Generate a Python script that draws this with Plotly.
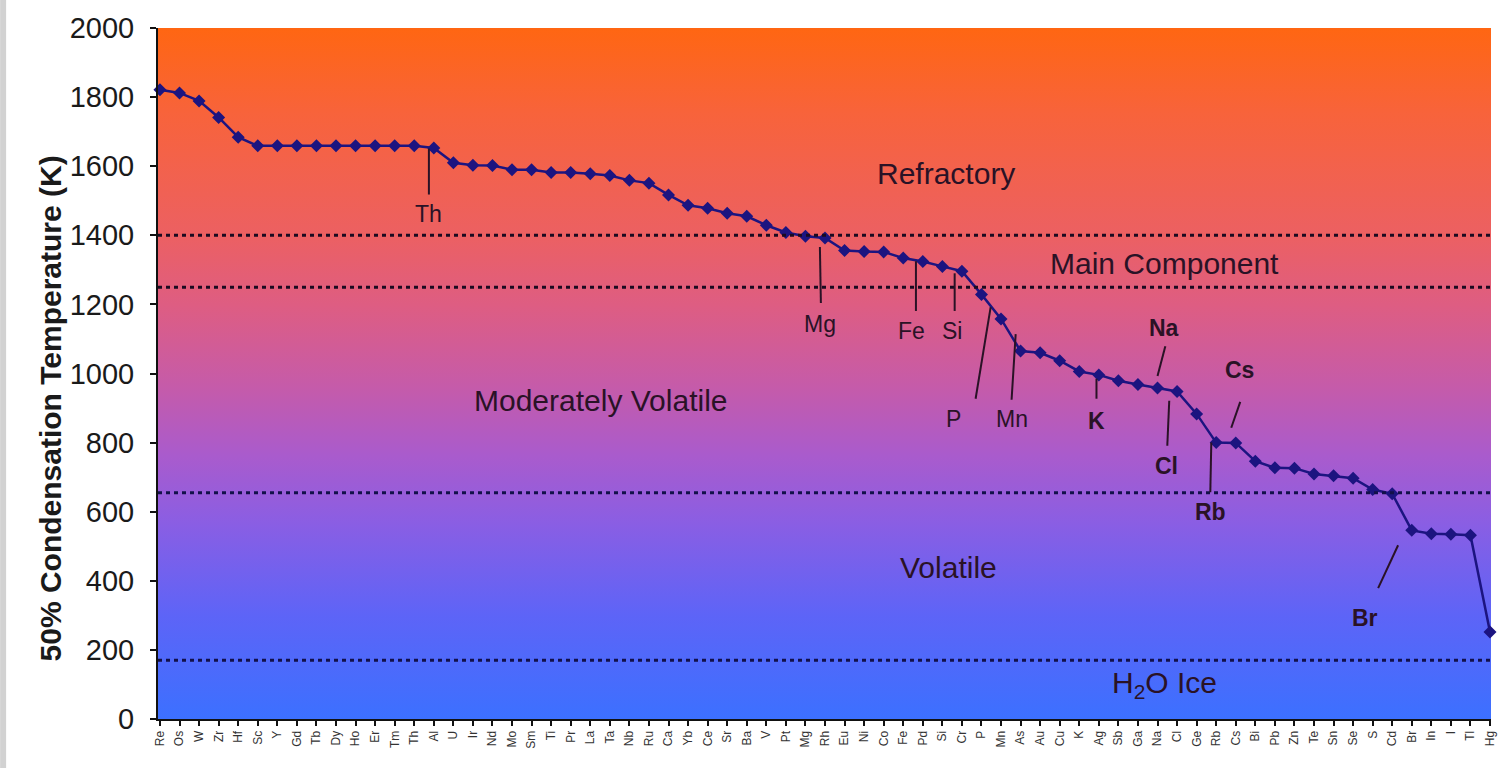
import base64
import plotly.graph_objects as go

# 50% condensation temperatures (K), ordered from most refractory to most volatile
elements = [
    "Re", "Os", "W", "Zr", "Hf", "Sc", "Y", "Gd", "Tb", "Dy", "Ho", "Er", "Tm", "Th",
    "Al", "U", "Ir", "Nd", "Mo", "Sm", "Ti", "Pr", "La", "Ta", "Nb", "Ru", "Ca", "Yb",
    "Ce", "Sr", "Ba", "V", "Pt", "Mg", "Rh", "Eu", "Ni", "Co", "Fe", "Pd", "Si", "Cr",
    "P", "Mn", "As", "Au", "Cu", "K", "Ag", "Sb", "Ga", "Na", "Cl", "Ge", "Rb", "Cs",
    "Bi", "Pb", "Zn", "Te", "Sn", "Se", "S", "Cd", "Br", "In", "I", "Tl", "Hg",
]
tc50 = [
    1821, 1812, 1789, 1741, 1684, 1659, 1659, 1659, 1659, 1659, 1659, 1659, 1659, 1659,
    1653, 1610, 1603, 1602, 1590, 1590, 1582, 1582, 1578, 1573, 1559, 1551, 1517, 1487,
    1478, 1464, 1455, 1429, 1408, 1397, 1392, 1356, 1353, 1352, 1334, 1324, 1310, 1296,
    1229, 1158, 1065, 1060, 1037, 1006, 996, 979, 968, 958, 948, 883, 800, 799,
    746, 727, 726, 709, 704, 697, 664, 652, 546, 536, 535, 532, 252,
]

# volatility class boundaries (K) and class names
zone_bounds = [1400, 1250, 655, 170]
zone_names = ["Refractory", "Main Component", "Moderately Volatile", "Volatile", "H<sub>2</sub>O Ice"]

# ---- layout / placement of labels (data coordinates) ----
zone_label_pos = [(40.2, 1579), (51.35, 1319), (22.5, 921), (40.3, 439), (51.35, 99)]

# element callouts: label, text position, leader line start/end, bold
callouts = [
    ("Th", (13.73, 1463), (13.75, 1651), (13.75, 1518), False),
    ("Mg", (33.74, 1143), (33.74, 1366), (33.79, 1204), False),
    ("Fe", (38.44, 1123), (38.65, 1325), (38.65, 1181), False),
    ("Si", (40.48, 1123), (40.63, 1290), (40.63, 1181), False),
    ("P", (40.58, 869), (42.47, 1192), (41.70, 927), False),
    ("Mn", (43.54, 869), (43.75, 1114), (43.54, 924), False),
    ("K", (47.88, 863), (47.88, 985), (47.88, 927), True),
    ("Na", (51.35, 1132), (51.40, 1079), (51.00, 993), True),
    ("Cl", (51.45, 731), (51.60, 921), (51.50, 791), True),
    ("Cs", (55.18, 1011), (55.23, 918), (54.77, 843), True),
    ("Rb", (53.70, 598), (53.75, 800), (53.70, 656), True),
    ("Br", (61.61, 292), (63.30, 503), (62.28, 379), True),
]

W, H = 1509, 768
M = dict(l=158, r=17, t=26, b=49)
plot_w = W - M["l"] - M["r"]
plot_h = H - M["t"] - M["b"]

# vertical background gradient, orange (hot) to blue (cold)
stops = [
    (0.00, "#FF6612"), (0.12, "#F8633A"), (0.30, "#EC6062"), (0.40, "#DE5D82"),
    (0.52, "#C55BAA"), (0.62, "#A95BCD"), (0.72, "#895EE4"), (0.85, "#5D64F7"),
    (1.00, "#3C70FF"),
]
stop_xml = "".join(f'<stop offset="{o}" stop-color="{c}"/>' for o, c in stops)
svg = (
    '<svg xmlns="http://www.w3.org/2000/svg" width="100" height="100" preserveAspectRatio="none">'
    '<defs><linearGradient id="g" x1="0" y1="0" x2="0" y2="1">' + stop_xml +
    '</linearGradient></defs><rect width="100" height="100" fill="url(#g)"/></svg>'
)
bg_uri = "data:image/svg+xml;base64," + base64.b64encode(svg.encode()).decode()

font_family = "Liberation Sans, Arial, sans-serif"
ink = "#2a1226"
series_color = "#1c1480"

fig = go.Figure()
fig.add_trace(go.Scatter(
    x=list(range(len(elements))), y=tc50,
    mode="lines+markers",
    line=dict(color=series_color, width=2.5),
    marker=dict(symbol="diamond", size=10, color=series_color),
    cliponaxis=False,
    hovertext=elements,
))

shapes = []
for i, b in enumerate(zone_bounds):
    shapes.append(dict(
        type="line", xref="paper", yref="y", x0=0, x1=1, y0=b, y1=b,
        line=dict(color="#1a0a20" if i < 2 else "#12104a", width=3, dash="4px,4px"),
    ))
for name, tpos, p0, p1, bold in callouts:
    shapes.append(dict(
        type="line", xref="x", yref="y", x0=p0[0], y0=p0[1], x1=p1[0], y1=p1[1],
        line=dict(color=ink, width=2),
    ))
# thin grey strip at the far left edge of the page
shapes.append(dict(
    type="rect", xref="paper", yref="paper",
    x0=-M["l"] / plot_w, x1=-(M["l"] - 6) / plot_w, y0=-1, y1=2,
    fillcolor="#d2d2d2", line=dict(width=0), layer="below",
))

annotations = []
for name, (x, y) in zip(zone_names, zone_label_pos):
    annotations.append(dict(
        x=x, y=y, xref="x", yref="y", text=name, showarrow=False,
        font=dict(family=font_family, size=30, color=ink),
    ))
for name, (x, y), p0, p1, bold in callouts:
    annotations.append(dict(
        x=x, y=y, xref="x", yref="y",
        text=f"<b>{name}</b>" if bold else name, showarrow=False,
        font=dict(family=font_family, size=23, color=ink),
    ))
annotations.append(dict(
    x=(32 - M["l"]) / plot_w, y=(H - M["b"] - 408) / plot_h, xref="paper", yref="paper",
    text="<b>50% Condensation Temperature (K)</b>", textangle=-90, showarrow=False,
    font=dict(family=font_family, size=30, color="#1a1a1a"),
))

fig.update_layout(
    width=W, height=H, margin=M,
    paper_bgcolor="white", plot_bgcolor="white",
    showlegend=False,
    shapes=shapes, annotations=annotations,
    images=[dict(
        source=bg_uri, xref="paper", yref="paper", x=0, y=1, sizex=1, sizey=1,
        xanchor="left", yanchor="top", sizing="stretch", layer="below",
    )],
    font=dict(family=font_family, color="#1a1a1a"),
)
fig.update_xaxes(
    range=[-0.1, 68.05],
    tickvals=list(range(len(elements))), ticktext=elements, tickangle=-90,
    tickfont=dict(size=12, color="#333"),
    ticks="outside", ticklen=5, tickwidth=1.5, tickcolor="#111",
    showline=True, linewidth=2, linecolor="#111",
    showgrid=False, zeroline=False,
)
fig.update_yaxes(
    range=[0, 2000], dtick=200,
    tickfont=dict(size=29, color="#1a1a1a"),
    ticks="outside", ticklen=6, tickwidth=1.5, tickcolor="#111",
    ticklabelstandoff=10,
    showline=True, linewidth=2, linecolor="#111",
    showgrid=False, zeroline=False,
)

fig.write_html("out.html")
